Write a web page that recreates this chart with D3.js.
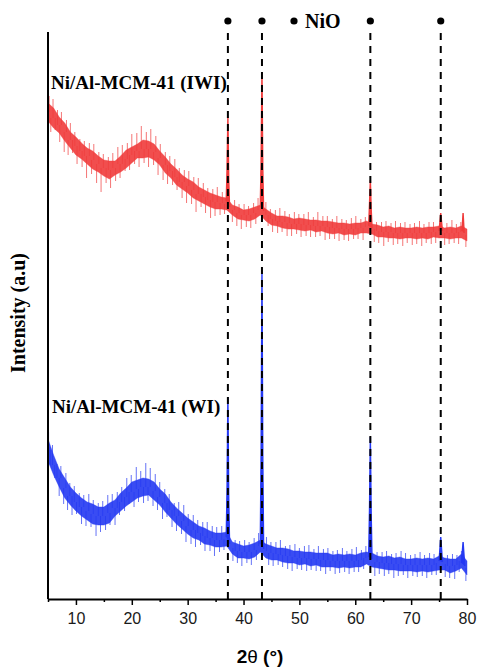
<!DOCTYPE html>
<html>
<head>
<meta charset="utf-8">
<script src="https://cdn.jsdelivr.net/npm/d3@7"></script>
<style>
  body { margin: 0; background: #fff; }
  svg { display: block; }
</style>
</head>
<body>
<svg id="chart" width="478" height="669"></svg>
<script>
// 2theta sampling grid (deg)
var angles = [5,6,7,8,9,10,11,12,13,14,15,16,17,18,19,20,21,22,23,24,25,26,27,28,29,30,
  31,32,33,34,35,36,37,38,39,40,41,42,43,44,45,46,47,48,49,50,51,52,53,54,55,56,57,58,
  59,60,61,62,63,64,65,66,67,68,69,70,71,72,73,74,75,76,77,78,79,80];

// Ni/Al-MCM-41 (IWI) - red, upper trace
var iwiLevel = [487,481,474,467,459,453,448,443,439,435,
  431,429,431,435,440,444,448,450,450,447,
  441,434,428,422,417,413,409,405,402,399,
  397,396,395,389,386,384,384,386,389,384,
  380,378,377,376,375,375,374,374,373,373,
  372,371,371,370,370,370,371,372,370,368,
  367,367,366,366,366,366,366,366,366,367,
  367,366,366,366,367,364];
var iwiNoise = [9,10,8,9,8,9,8,8,9,8,
  8,9,7,8,9,8,7,9,8,8,
  7,8,7,8,7,7,8,7,7,7,
  7,6,6,5,6,5,6,6,5,6,
  6,5,6,6,5,6,6,5,6,5,
  6,6,5,6,5,6,5,6,5,6,
  5,6,5,6,5,5,6,5,6,5,
  6,5,6,5,6,6];
var iwiPeaks = [
  [[36.9,398],[37.05,430],[37.2,482],[37.35,420],[37.5,392]],
  [[43.0,392],[43.15,440],[43.3,527],[43.45,430],[43.6,388]],
  [[62.4,373],[62.55,395],[62.7,419],[62.85,390],[63.0,371]],
  [[75.0,368],[75.3,386],[75.6,368]],
  [[79.1,368],[79.3,386],[79.5,366]]
];
// noise hairs: [angle, deviation from level]
var iwiSpikes = [[5.2,16],[5.5,-14],[5.9,19],[6.3,-12],[6.7,15],[7.1,-17],[7.4,13],[7.9,-20],
  [8.3,12],[8.6,-15],[9.0,17],[9.4,-13],[9.8,14],[10.2,-18],[10.7,12],[11.1,-16],[11.5,15],
  [11.9,-22],[12.4,13],[12.8,-14],[13.2,16],[13.7,-19],[14.1,12],[14.5,-24],[14.9,14],
  [15.4,-15],[15.8,13],[16.2,-18],[16.6,15],[17.1,-13],[17.5,17],[17.9,-14],[18.3,19],
  [18.8,-12],[19.2,16],[19.6,-15],[20.0,21],[20.5,-13],[20.9,18],[21.3,-16],[21.7,23],
  [22.2,-14],[22.6,17],[23.0,-18],[23.4,20],[23.9,-13],[24.3,16],[24.7,-17],[25.1,14],
  [25.6,-15],[26.0,13],[26.4,-19],[26.8,15],[27.3,-14],[27.7,18],[28.1,-13],[28.5,14],
  [29.0,-16],[29.4,12],[29.8,-17],[30.2,15],[30.7,-14],[31.1,13],[31.5,-18],[31.9,16],
  [32.4,-13],[32.8,14],[33.2,-16],[33.6,12],[34.1,-18],[34.5,13],[34.9,-14],[35.3,15],
  [35.8,-12],[36.2,11],[36.6,-10],
  [38.0,-12],[38.4,10],[38.8,-13],[39.2,9],[39.6,-14],[40.1,11],[40.5,-12],[40.9,9],
  [41.3,-13],[41.8,10],[42.2,-11],[42.6,12],
  [44.0,13],[44.4,-11],[44.8,10],[45.2,-13],[45.7,11],[46.1,-12],[46.5,14],[46.9,-10],
  [47.4,11],[47.8,-13],[48.2,9],[48.6,-12],[49.1,12],[49.5,-10],[49.9,10],[50.3,-13],
  [50.8,11],[51.2,-11],[51.6,13],[52.0,-12],[52.5,9],[52.9,-11],[53.3,14],[53.7,-10],
  [54.2,10],[54.6,-13],[55.0,11],[55.4,-12],[55.9,9],[56.3,-11],[56.7,12],[57.1,-13],
  [57.6,10],[58.0,-11],[58.4,9],[58.8,-12],[59.3,11],[59.7,-10],[60.1,13],[60.5,-11],
  [61.0,9],[61.4,-12],[61.8,10],
  [63.4,-13],[63.8,9],[64.2,-12],[64.7,10],[65.1,-14],[65.5,11],[65.9,-10],[66.4,9],
  [66.8,-12],[67.2,12],[67.6,-11],[68.1,10],[68.5,-13],[68.9,11],[69.3,-10],[69.8,9],
  [70.2,-12],[70.6,10],[71.0,-11],[71.5,12],[71.9,-13],[72.3,9],[72.7,-10],[73.2,11],
  [73.6,-12],[74.0,10],[74.4,-11],
  [76.0,-12],[76.4,10],[76.8,-11],[77.3,13],[77.7,-10],[78.1,9],[78.5,-12],[78.9,10],
  [79.8,-12]];

// Ni/Al-MCM-41 (WI) - blue, lower trace
var wiLevel = [149,134,121,111,103,97,92,88,85,83,
  83,86,91,97,102,107,110,112,112,108,
  102,96,89,83,78,73,69,66,63,61,
  59,59,60,51,48,47,47,49,53,48,
  46,45,44,43,42,41,41,40,40,39,
  39,38,38,38,38,38,39,41,39,37,
  36,36,35,35,34,34,34,34,34,34,
  36,35,33,34,38,31];
var wiNoise = [11,10,9,10,9,9,9,9,10,9,
  9,10,8,9,9,10,9,9,8,9,
  8,9,8,8,8,8,8,7,8,7,
  7,7,7,6,7,6,7,7,6,7,
  7,6,7,7,6,7,6,7,6,7,
  7,6,7,6,7,6,7,6,7,6,
  6,7,6,7,6,6,7,6,7,6,
  7,6,7,6,7,7];
var wiPeaks = [
  [[36.9,62],[37.05,110],[37.2,202],[37.35,100],[37.5,55]],
  [[43.0,55],[43.15,150],[43.3,327],[43.45,140],[43.6,50]],
  [[62.4,42],[62.55,90],[62.7,162],[62.85,85],[63.0,40]],
  [[75.0,38],[75.3,62],[75.6,37]],
  [[79.0,36],[79.3,57],[79.6,33]]
];
var wiSpikes = [[5.1,18],[5.4,-15],[5.8,20],[6.2,-13],[6.6,14],[7.0,-18],[7.3,12],[7.8,-16],
  [8.2,15],[8.5,-14],[8.9,13],[9.3,-19],[9.7,16],[10.1,-12],[10.6,14],[11.0,-17],[11.4,12],
  [11.8,-15],[12.3,17],[12.7,-13],[13.1,14],[13.6,-20],[14.0,13],[14.4,-16],[14.8,15],
  [15.3,-14],[15.7,18],[16.1,-12],[16.5,14],[17.0,-17],[17.4,16],[17.8,-13],[18.2,15],
  [18.7,-14],[19.1,19],[19.5,-12],[19.9,17],[20.4,-15],[20.8,22],[21.2,-13],[21.6,16],
  [22.1,-16],[22.5,24],[22.9,-14],[23.3,19],[23.8,-15],[24.2,17],[24.6,-13],[25.0,15],
  [25.5,-16],[25.9,14],[26.3,-14],[26.7,16],[27.2,-17],[27.6,13],[28.0,-15],[28.4,14],
  [28.9,-13],[29.3,16],[29.7,-16],[30.1,12],[30.6,-14],[31.0,15],[31.4,-17],[31.8,13],
  [32.3,-12],[32.7,14],[33.1,-15],[33.5,16],[34.0,-13],[34.4,12],[34.8,-16],[35.2,13],
  [35.7,-12],[36.1,14],[36.5,-11],
  [38.1,-13],[38.5,11],[38.9,-12],[39.3,10],[39.7,-14],[40.2,12],[40.6,-11],[41.0,10],
  [41.4,-13],[41.9,12],[42.3,-10],[42.7,13],
  [44.1,14],[44.5,-12],[44.9,11],[45.3,-13],[45.8,12],[46.2,-11],[46.6,15],[47.0,-12],
  [47.5,10],[47.9,-13],[48.3,11],[48.7,-14],[49.2,13],[49.6,-11],[50.0,10],[50.4,-12],
  [50.9,12],[51.3,-13],[51.7,14],[52.1,-11],[52.6,10],[53.0,-12],[53.4,13],[53.8,-11],
  [54.3,11],[54.7,-14],[55.1,12],[55.5,-10],[56.0,10],[56.4,-13],[56.8,11],[57.2,-12],
  [57.7,13],[58.1,-11],[58.5,10],[58.9,-13],[59.4,12],[59.8,-11],[60.2,14],[60.6,-12],
  [61.1,10],[61.5,-11],[61.9,12],
  [63.5,-14],[63.9,10],[64.3,-12],[64.8,11],[65.2,-13],[65.6,12],[66.0,-11],[66.5,10],
  [66.9,-14],[67.3,11],[67.7,-12],[68.2,13],[68.6,-10],[69.0,12],[69.4,-13],[69.9,10],
  [70.3,-11],[70.7,11],[71.1,-12],[71.6,13],[72.0,-11],[72.4,10],[72.8,-13],[73.3,12],
  [73.7,-10],[74.1,11],[74.5,-12],
  [76.1,-13],[76.5,11],[76.9,-12],[77.4,12],[77.8,-14],[78.2,10],[78.6,-11],[79.0,10],
  [79.8,-13]];

// NiO reflections
var nioLines = [37.2, 43.3, 62.7, 75.3];

var xTicks = [10,20,30,40,50,60,70,80];
var xMinor = [5,15,25,35,45,55,65,75];

var svg = d3.select("#chart"),
    x = d3.scaleLinear().domain([5, 80]).range([48, 467]),
    y = d3.scaleLinear().domain([0, 570]).range([599, 29]);

var RED = "#ef3b3b", BLUE = "#2438f2";

function drawTrace(level, noise, peaks, spikes, color){
    var g = svg.append("g");

    var band = d3.area()
        .x(function(d, i){ return x(angles[i]); })
        .y0(function(d, i){ return y(level[i] - noise[i]); })
        .y1(function(d, i){ return y(level[i] + noise[i]); });

    // noise hairs, drawn from the level at that angle
    g.selectAll(".spike")
        .data(spikes)
        .enter().append("line")
        .attr("x1", function(d){ return x(d[0]); })
        .attr("x2", function(d){ return x(d[0]); })
        .attr("y1", function(d){ return y(level[Math.round(d[0]) - 5]); })
        .attr("y2", function(d){ return y(level[Math.round(d[0]) - 5] + d[1]); })
        .attr("stroke", color)
        .attr("stroke-opacity", 0.7)
        .attr("stroke-width", 1);

    g.append("path")
        .datum(level)
        .attr("d", band)
        .attr("fill", color)
        .attr("fill-opacity", 0.9)
        .attr("stroke", color)
        .attr("stroke-opacity", 0.4)
        .attr("stroke-width", 1);

    var line = d3.line()
        .x(function(d){ return x(d[0]); })
        .y(function(d){ return y(d[1]); });

    g.selectAll(".peak")
        .data(peaks)
        .enter().append("path")
        .attr("d", line)
        .attr("fill", color)
        .attr("stroke", color)
        .attr("stroke-width", 1.4);
}

drawTrace(iwiLevel, iwiNoise, iwiPeaks, iwiSpikes, RED);
drawTrace(wiLevel, wiNoise, wiPeaks, wiSpikes, BLUE);

// dashed reference lines + dots
svg.selectAll(".ref")
    .data(nioLines)
    .enter().append("line")
    .attr("x1", function(d){ return x(d); })
    .attr("x2", function(d){ return x(d); })
    .attr("y1", 33)
    .attr("y2", 599)
    .attr("stroke", "#000")
    .attr("stroke-width", 2)
    .attr("stroke-dasharray", "7,6");

svg.selectAll(".dot")
    .data(nioLines)
    .enter().append("circle")
    .attr("cx", function(d){ return x(d); })
    .attr("cy", 21)
    .attr("r", 3.6)
    .attr("fill", "#000");

// legend "• NiO"
svg.append("circle").attr("cx", 294).attr("cy", 21).attr("r", 3.6).attr("fill", "#000");
svg.append("text")
    .attr("x", 305).attr("y", 28)
    .attr("font-family", "Liberation Serif, Times New Roman, serif")
    .attr("font-weight", "bold")
    .attr("font-size", 20)
    .text("NiO");

// sample labels
svg.append("text")
    .attr("x", 51).attr("y", 89)
    .attr("font-family", "Liberation Serif, Times New Roman, serif")
    .attr("font-weight", "bold")
    .attr("font-size", 19)
    .text("Ni/Al-MCM-41 (IWI)");

svg.append("text")
    .attr("x", 52).attr("y", 413)
    .attr("font-family", "Liberation Serif, Times New Roman, serif")
    .attr("font-weight", "bold")
    .attr("font-size", 19)
    .text("Ni/Al-MCM-41 (WI)");

// axes
svg.append("line")
    .attr("x1", 48).attr("x2", 48)
    .attr("y1", 32).attr("y2", 599)
    .attr("stroke", "#000")
    .attr("stroke-width", 2);

var xAxis = svg.append("g")
    .attr("transform", "translate(0,599)")
    .call(d3.axisBottom(x).tickValues(xTicks).tickSize(6).tickSizeOuter(0).tickPadding(8));
xAxis.select(".domain").attr("stroke-width", 2);
xAxis.selectAll(".tick line").attr("stroke-width", 1.5);
xAxis.selectAll("text")
    .attr("font-family", "Liberation Sans, Arial, sans-serif")
    .attr("font-size", 16)
    .attr("fill", "#1a1a1a");

var xMinorAxis = svg.append("g")
    .attr("transform", "translate(0,599)")
    .call(d3.axisBottom(x).tickValues(xMinor).tickSize(3).tickFormat(""));
xMinorAxis.select(".domain").remove();
xMinorAxis.selectAll(".tick line").attr("stroke-width", 1.5);

// axis titles
var xt = svg.append("text")
    .attr("x", 260).attr("y", 663)
    .attr("text-anchor", "middle")
    .attr("font-family", "Liberation Sans, Arial, sans-serif")
    .attr("font-size", 19)
    .attr("fill", "#000");
xt.append("tspan").attr("font-weight", "bold").text("2");
xt.append("tspan").text("θ");
xt.append("tspan").attr("font-weight", "bold").text(" (°)");

svg.append("text")
    .attr("transform", "translate(25,313) rotate(-90)")
    .attr("text-anchor", "middle")
    .attr("font-family", "Liberation Serif, Times New Roman, serif")
    .attr("font-weight", "bold")
    .attr("font-size", 20)
    .text("Intensity (a.u)");
</script>
</body>
</html>
